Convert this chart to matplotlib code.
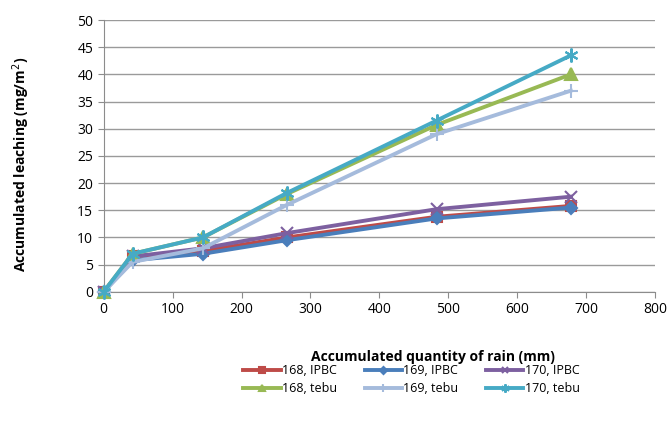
import matplotlib
matplotlib.use("Agg")
import matplotlib.pyplot as plt

plt.rcParams["font.family"] = ["Open Sans", "DejaVu Sans"]

rain = [0, 42, 144, 266, 483, 678]

ipbc_168 = [0, 6.5, 7.5, 10.0, 13.8, 15.8]
ipbc_169 = [0, 5.8, 7.0, 9.5, 13.5, 15.5]
ipbc_170 = [0, 6.5, 8.0, 10.8, 15.2, 17.5]
tebu_168 = [0, 7.0, 10.0, 18.0, 30.7, 40.0]
tebu_169 = [0, 5.5, 8.0, 16.0, 29.0, 37.0]
tebu_170 = [0, 7.0, 10.0, 18.2, 31.5, 43.5]

labels = ["168, IPBC", "169, IPBC", "170, IPBC", "168, tebu", "169, tebu", "170, tebu"]

series = [
    (ipbc_168, "#BE4B48", "s", 7),
    (ipbc_169, "#4A7EBB", "D", 6),
    (ipbc_170, "#7D60A0", "x", 8),
    (tebu_168, "#98B954", "^", 8),
    (tebu_169, "#A5BBDC", "+", 10),
    (tebu_170, "#46AAC5", (6, 2, 0), 10),
]

fig = plt.figure(figsize=(6.69, 4.26), dpi=100)
ax = fig.add_axes([0.155, 0.315, 0.824, 0.638])

handles = []
for (vals, color, marker, ms), label in zip(series, labels):
    h, = ax.plot(rain, vals, color=color, lw=2.8, marker=marker, markersize=ms,
                 markeredgewidth=1.5, markeredgecolor=color, markerfacecolor=color,
                 label=label, clip_on=False, zorder=3)
    handles.append(h)

ax.set_xlim(0, 800)
ax.set_ylim(0, 50)
ax.set_xticks(range(0, 801, 100))
ax.set_yticks(range(0, 51, 5))
ax.yaxis.grid(True, color="#9a9a9a", lw=1)
ax.set_axisbelow(True)
for side in ["top", "right"]:
    ax.spines[side].set_visible(False)
for side in ["left", "bottom"]:
    ax.spines[side].set_color("#8c8c8c")
ax.tick_params(colors="#8c8c8c", labelcolor="black", labelsize=10, length=4)

ax.set_xlabel("Accumulated quantity of rain (mm)", fontsize=10, fontweight="bold")
ax.xaxis.set_label_coords(0.598, -0.215)
ax.set_ylabel("Accumulated leaching (mg/m$^{2}$)", fontsize=10, fontweight="bold")
ax.yaxis.set_label_coords(-0.13, 0.47)

order = [0, 3, 1, 4, 2, 5]
fig.legend([handles[i] for i in order], [labels[i] for i in order],
           loc="center", bbox_to_anchor=(0.615, 0.108), ncol=3, frameon=False,
           fontsize=9, handlelength=3, columnspacing=2.2, labelspacing=0.4,
           handletextpad=0.1, markerscale=0.6)

fig.savefig("out.png", dpi=100)
